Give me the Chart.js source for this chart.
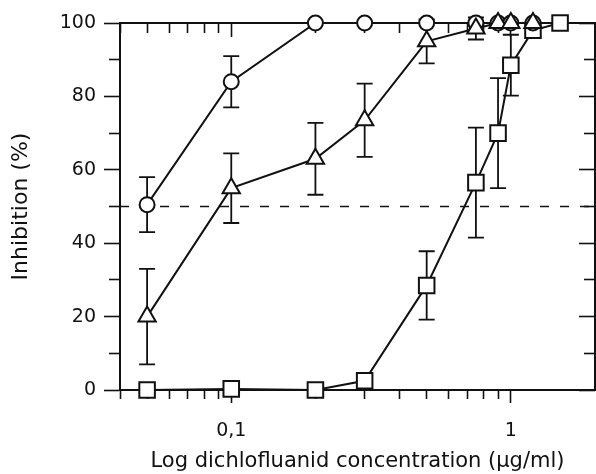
<!DOCTYPE html>
<html>
<head>
<meta charset="utf-8">
<script src="https://cdn.jsdelivr.net/npm/chart.js@4.4.1/dist/chart.umd.min.js"></script>
<style>
  html, body { margin: 0; padding: 0; background: #fff; }
</style>
</head>
<body>
<canvas id="chart" width="596" height="474"></canvas>
<script>
// values: concentration (ug/ml) vs inhibition (%)
const circleX = [0.05, 0.1, 0.2, 0.3, 0.5, 0.75, 0.9, 1, 1.2];
const circleY = [50.5, 84, 100, 100, 100, 100, 100, 100, 100];
const circleErr = [7.5, 7, 0, 0, 0, 0, 0, 0, 0];

const triangleX = [0.05, 0.1, 0.2, 0.3, 0.5, 0.75, 0.9, 1, 1.2];
const triangleY = [20, 55, 63, 73.5, 95, 98.5, 100, 100, 100];
const triangleErr = [13, 9.5, 9.8, 10, 6, 3, 0, 0, 0];

const squareX = [0.05, 0.1, 0.2, 0.3, 0.5, 0.75, 0.9, 1, 1.2, 1.5];
const squareY = [0, 0.3, 0, 2.5, 28.5, 56.5, 70, 88.5, 98, 100];
const squareErr = [0, 0, 0, 0, 9.3, 15, 15, 8.3, 0, 0];

// 50 % reference line
const refX = [0.04, 2];
const refY = [50, 50];

const xMin = 0.04, xMax = 2;
const xMajorTicks = [0.1, 1];
const xTickLabels = ['0,1', '1'];
const xMinorTicks = [0.04, 0.05, 0.06, 0.07, 0.08, 0.09, 0.2, 0.3, 0.4, 0.5, 0.6, 0.7, 0.8, 0.9];
const yMajorTicks = [0, 20, 40, 60, 80, 100];
const yMinorTicks = [10, 30, 50, 70, 90];

const xTitle = 'Log dichlofluanid concentration (\u00b5g/ml)';
const yTitle = 'Inhibition (%)';

const black = '#111';
Chart.defaults.font.family = "'DejaVu Sans', sans-serif";
Chart.defaults.color = black;

const pts = (xs, ys) => xs.map((x, i) => ({ x: x, y: ys[i] }));
const useTicks = values => s => { s.ticks = values.map(v => ({ value: v })); };

// extra axes only carry tick marks, they take no room
function markAxis(type, position, values, len, border) {
  const horiz = position === 'top' || position === 'bottom';
  return {
    type: type,
    position: position,
    min: horiz ? xMin : 0,
    max: horiz ? xMax : 100,
    weight: 0,
    afterBuildTicks: useTicks(values),
    afterFit: s => { if (horiz) s.height = 0; else s.width = 0; },
    ticks: { display: false },
    grid: { drawOnChartArea: false, tickLength: len, tickWidth: 1.6, tickColor: black },
    border: { display: border, color: black, width: 2 }
  };
}

// error bars, drawn under the markers
const errorBars = {
  id: 'errorBars',
  beforeDatasetsDraw(chart) {
    const ctx = chart.ctx;
    const y = chart.scales.y;
    chart.data.datasets.forEach((ds, i) => {
      if (!ds.errors) return;
      const meta = chart.getDatasetMeta(i);
      ctx.save();
      ctx.strokeStyle = black;
      ctx.lineWidth = 1.8;
      meta.data.forEach((p, j) => {
        const e = ds.errors[j];
        if (!e) return;
        const v = ds.data[j].y;
        const top = y.getPixelForValue(v + e);
        const bot = y.getPixelForValue(v - e);
        ctx.beginPath();
        ctx.moveTo(p.x, top); ctx.lineTo(p.x, bot);
        ctx.moveTo(p.x - 8, top); ctx.lineTo(p.x + 8, top);
        ctx.moveTo(p.x - 8, bot); ctx.lineTo(p.x + 8, bot);
        ctx.stroke();
      });
      ctx.restore();
    });
  }
};

const series = (data, errors, style, radius, order) => ({
  data: data,
  errors: errors,
  borderColor: black,
  borderWidth: 2,
  pointStyle: style,
  pointRadius: radius,
  pointBackgroundColor: '#fff',
  pointBorderColor: black,
  pointBorderWidth: 2,
  tension: 0,
  clip: false,
  order: order
});

new Chart(document.getElementById('chart'), {
  type: 'line',
  data: {
    datasets: [
      series(pts(triangleX, triangleY), triangleErr, 'triangle', 10, 1),
      series(pts(circleX, circleY), circleErr, 'circle', 7.5, 2),
      series(pts(squareX, squareY), squareErr, 'rect', 11, 3),
      {
        data: pts(refX, refY),
        borderColor: black,
        borderWidth: 1.6,
        borderDash: [9, 11],
        pointRadius: 0,
        order: 10
      }
    ]
  },
  options: {
    responsive: false,
    animation: false,
    layout: { autoPadding: false, padding: { left: 0, right: 1, top: 23, bottom: 0 } },
    plugins: { legend: { display: false }, tooltip: { enabled: false } },
    scales: {
      x: {
        type: 'logarithmic',
        position: 'bottom',
        min: xMin,
        max: xMax,
        weight: 1,
        afterBuildTicks: useTicks(xMajorTicks),
        afterFit: s => { s.height = 84; },
        ticks: {
          autoSkip: false,
          maxRotation: 0,
          padding: 17,
          font: { size: 19 },
          callback: v => {
            const i = xMajorTicks.indexOf(v);
            return i >= 0 ? xTickLabels[i] : '';
          }
        },
        grid: { drawOnChartArea: false, tickLength: 13, tickWidth: 1.6, tickColor: black },
        border: { color: black, width: 2 },
        title: { display: true, text: xTitle, font: { size: 21 }, padding: { top: 0, bottom: 0 } }
      },
      xMinor: markAxis('logarithmic', 'bottom', xMinorTicks, 9, false),
      xTop: markAxis('logarithmic', 'top', xMinorTicks, -10, true),
      xTopMajor: markAxis('logarithmic', 'top', xMajorTicks, -14, false),
      y: {
        type: 'linear',
        position: 'left',
        min: 0,
        max: 100,
        weight: 1,
        afterBuildTicks: useTicks(yMajorTicks),
        afterFit: s => { s.width = 120; },
        ticks: { padding: 8, font: { size: 19 } },
        grid: { drawOnChartArea: false, tickLength: 16, tickWidth: 1.6, tickColor: black },
        border: { color: black, width: 2 },
        title: { display: true, text: yTitle, font: { size: 22 }, padding: { top: 8, bottom: 0 } }
      },
      yMinor: markAxis('linear', 'left', yMinorTicks, 11, false),
      yRight: markAxis('linear', 'right', yMinorTicks, -11, true),
      yRightMajor: markAxis('linear', 'right', yMajorTicks, -16, false)
    }
  },
  plugins: [errorBars]
});
</script>
</body>
</html>
